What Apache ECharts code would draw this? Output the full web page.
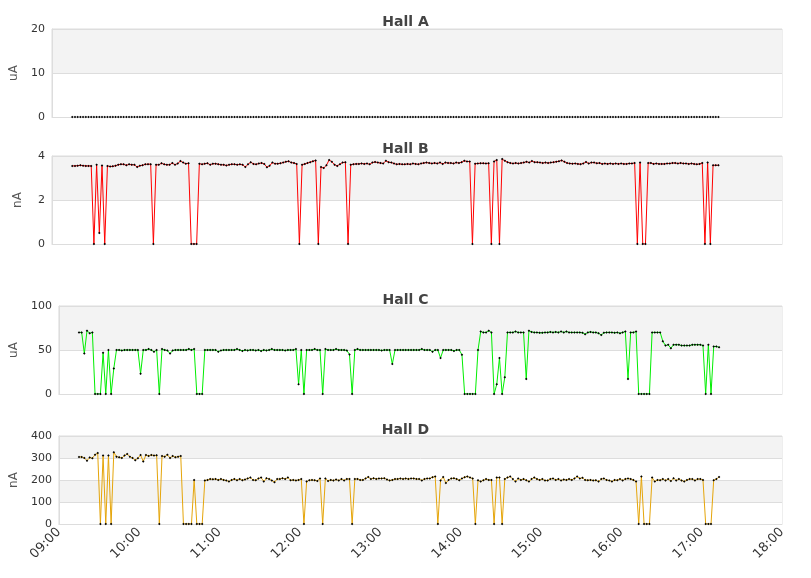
<!DOCTYPE html>
<html>
<head>
<meta charset="utf-8">
<script src="https://cdn.jsdelivr.net/npm/echarts@6/dist/echarts.min.js"></script>
<style>
  html, body { margin: 0; padding: 0; background: #fff; }
  #chart { width: 811px; height: 578px; }
</style>
</head>
<body>
<div id="chart"></div>
<script>
// samples every 2 minutes starting 09:15 (minutes since midnight)
var startMinute = 555;
var stepMinutes = 2;

var hallNames = ['Hall A', 'Hall B', 'Hall C', 'Hall D'];
var hallUnits = ['uA', 'nA', 'uA', 'nA'];
var hallMax = [20, 4, 100, 400];
var hallStep = [10, 2, 50, 100];
var hallColors = ['#d8d8d8', '#ff0000', '#00ee00', '#e5a50a'];

var hallA = [
  0,0,0,0,0,0,0,0,0,0, 0,0,0,0,0,0,0,0,0,0,
  0,0,0,0,0,0,0,0,0,0, 0,0,0,0,0,0,0,0,0,0,
  0,0,0,0,0,0,0,0,0,0, 0,0,0,0,0,0,0,0,0,0,
  0,0,0,0,0,0,0,0,0,0, 0,0,0,0,0,0,0,0,0,0,
  0,0,0,0,0,0,0,0,0,0, 0,0,0,0,0,0,0,0,0,0,
  0,0,0,0,0,0,0,0,0,0, 0,0,0,0,0,0,0,0,0,0,
  0,0,0,0,0,0,0,0,0,0, 0,0,0,0,0,0,0,0,0,0,
  0,0,0,0,0,0,0,0,0,0, 0,0,0,0,0,0,0,0,0,0,
  0,0,0,0,0,0,0,0,0,0, 0,0,0,0,0,0,0,0,0,0,
  0,0,0,0,0,0,0,0,0,0, 0,0,0,0,0,0,0,0,0,0,
  0,0,0,0,0,0,0,0,0,0, 0,0,0,0,0,0,0,0,0,0,
  0,0,0,0,0,0,0,0,0,0, 0,0,0,0,0,0,0,0,0,0
];

var hallB = [
  3.55,3.55,3.56,3.58,3.56,3.55,3.55,3.55,0,3.6,
  0.5,3.57,0,3.55,3.52,3.53,3.56,3.6,3.63,3.62,
  3.58,3.62,3.6,3.6,3.5,3.56,3.58,3.62,3.63,3.63,
  0,3.6,3.6,3.67,3.62,3.6,3.6,3.68,3.6,3.66,
  3.77,3.7,3.65,3.67,0,0,0,3.65,3.62,3.65,
  3.67,3.6,3.65,3.65,3.63,3.6,3.6,3.57,3.6,3.63,
  3.62,3.6,3.62,3.6,3.5,3.62,3.72,3.64,3.62,3.66,
  3.68,3.64,3.49,3.56,3.7,3.65,3.65,3.67,3.7,3.74,
  3.76,3.7,3.68,3.64,0,3.6,3.64,3.68,3.72,3.76,
  3.8,0,3.5,3.45,3.58,3.82,3.74,3.6,3.55,3.63,
  3.7,3.72,0,3.6,3.63,3.64,3.64,3.66,3.64,3.66,
  3.62,3.7,3.73,3.7,3.68,3.66,3.78,3.72,3.7,3.66,
  3.62,3.64,3.62,3.62,3.64,3.62,3.66,3.64,3.62,3.66,
  3.68,3.7,3.68,3.66,3.68,3.66,3.7,3.64,3.7,3.68,
  3.68,3.66,3.7,3.68,3.72,3.78,3.75,3.75,0,3.65,
  3.66,3.67,3.67,3.66,3.67,0,3.75,3.82,0,3.86,
  3.78,3.72,3.68,3.66,3.68,3.66,3.68,3.7,3.74,3.7,
  3.77,3.72,3.72,3.7,3.68,3.7,3.68,3.7,3.72,3.74,
  3.76,3.8,3.74,3.68,3.66,3.65,3.66,3.64,3.63,3.66,
  3.73,3.66,3.7,3.7,3.67,3.68,3.64,3.66,3.64,3.66,
  3.64,3.66,3.64,3.66,3.64,3.64,3.66,3.66,3.68,0,
  3.7,0,0,3.68,3.68,3.64,3.66,3.64,3.64,3.64,
  3.66,3.66,3.68,3.68,3.66,3.68,3.66,3.66,3.64,3.66,
  3.64,3.62,3.64,3.68,0,3.7,0,3.58,3.58,3.58
];

var hallC = [
  70,70,46,72,69,70,0,0,0,47,
  0,50,0,29,50,50,49.5,50,50,50,
  50,50,50,23,50,50,51,50,48,50,
  0,51,50,49.5,46,49.5,50,50,50,50,
  50,51,50,51,0,0,0,50,50,50,
  50,50,48,49.5,50,50,50,50,50,51,
  50,49,50,49.5,50,50,49.5,50,49,50,
  49.5,50,51,50,50,50,50,49.5,50,50,
  50,51,11,50,0,50,50,50,51,50,
  50,0,51,50,50,50,51,50,50,50,
  49.5,45,0,50,51,50,50,50,50,50,
  50,50,50,49.5,50,50,50,34,50,50,
  50,50,50,50,50,50,50,50,51,50,
  50,50,48,50,50,41,50,50,50,50,
  49,50,50,44.5,0,0,0,0,0,50,
  71,70,70,72,70,0,11,41,0,19,
  70,70,70,71,70,70,70,17,72,70.5,
  70,70,69.5,69.5,70,70,70.5,70,70.5,70,
  71,70,71,70,70,70,70,70,69.5,68,
  70,70.5,70,70,69,67,69.5,70,70,70,
  69.5,70,69,70,71,17,70,70,71,0,
  0,0,0,0,70,70,70,70,60,55,
  56,52,56,56,56,55,55,55,55,56,
  56,56,56,55,0,56,0,54,54,53
];

var hallD = [
  305,305,300,288,302,299,315,323,0,311,
  0,311,0,326,306,303,300,311,318,306,
  300,290,299,314,284,314,309,314,311,312,
  0,309,306,315,300,309,303,306,309,0,
  0,0,0,200,0,0,0,198,200,204,
  203,204,200,204,200,198,193,200,204,199,
  204,199,202,207,211,200,199,207,211,193,
  208,204,198,190,204,204,208,204,211,199,
  200,198,200,204,0,193,199,200,199,196,
  207,0,207,196,200,198,202,198,204,198,
  205,204,0,204,205,200,200,207,214,204,
  208,204,207,207,208,202,198,200,204,204,
  207,204,207,204,207,207,204,204,198,204,
  207,207,213,216,0,198,214,186,200,207,
  208,204,199,207,213,216,211,207,0,199,
  193,199,204,200,200,0,211,211,0,205,
  211,216,204,193,207,200,204,199,193,204,
  211,204,200,204,198,198,204,207,200,204,
  198,202,200,204,200,207,216,207,210,200,
  199,200,198,199,193,204,207,200,198,193,
  200,199,205,198,204,207,204,200,193,0,
  216,0,0,0,211,193,200,199,204,198,
  204,195,208,198,204,198,193,200,204,204,
  198,204,204,200,0,0,0,199,204,214
];

var hallData = [hallA, hallB, hallC, hallD];

// x axis: 09:00 .. 18:00 in minutes since midnight
var xMin = 540, xMax = 1080, xStep = 60;

var gridTops = [29, 156, 306, 436];
var titleTops = [10, 137, 288, 418];

function toPoints(values) {
  return values.map(function (v, i) {
    return [startMinute + stepMinutes * i, v];
  });
}

function hhmm(v) {
  var h = Math.floor(v / 60);
  return (h < 10 ? '0' + h : '' + h) + ':00';
}

var font = 'DejaVu Sans';
var titles = [], grids = [], xAxes = [], yAxes = [], series = [];

for (var k = 0; k < 4; k++) {
  var last = k === 3;
  titles.push({
    text: hallNames[k],
    left: 'center',
    top: titleTops[k],
    textStyle: { fontFamily: font, fontSize: 14, fontWeight: 'bold', color: '#444' }
  });
  grids.push({
    left: 52, right: 29, top: gridTops[k], height: 88,
    show: true, borderColor: '#dddddd', borderWidth: 1
  });
  xAxes.push({
    type: 'value', gridIndex: k,
    min: xMin, max: xMax, interval: xStep,
    axisLine: { show: true, lineStyle: { color: '#dddddd' } },
    axisTick: { show: false },
    splitLine: { show: false },
    axisLabel: {
      show: last, rotate: 45, fontFamily: font, fontSize: 13, color: '#333',
      margin: 6, formatter: hhmm
    }
  });
  yAxes.push({
    type: 'value', gridIndex: k,
    min: 0, max: hallMax[k], interval: hallStep[k],
    name: hallUnits[k], nameLocation: 'middle', nameGap: 28,
    nameTextStyle: { fontFamily: font, fontSize: 12, color: '#555' },
    axisLine: { show: true, lineStyle: { color: '#dddddd' } },
    axisTick: { show: false },
    axisLabel: { fontFamily: font, fontSize: 11, color: '#333', margin: 7 },
    splitLine: { show: true, lineStyle: { color: '#dddddd' } },
    splitArea: { show: true, areaStyle: { color: ['#ffffff', '#f3f3f3'] } }
  });
  series.push({
    name: hallNames[k], type: 'line',
    xAxisIndex: k, yAxisIndex: k,
    data: toPoints(hallData[k]),
    symbol: 'diamond', symbolSize: 2.5, showSymbol: true,
    lineStyle: { color: hallColors[k], width: 1 },
    itemStyle: { color: '#000', borderWidth: 0 },
    z: 3
  });
}

var chart = echarts.init(document.getElementById('chart'));
chart.setOption({
  animation: false,
  backgroundColor: '#fff',
  title: titles,
  grid: grids,
  xAxis: xAxes,
  yAxis: yAxes,
  series: series
});
</script>
</body>
</html>
